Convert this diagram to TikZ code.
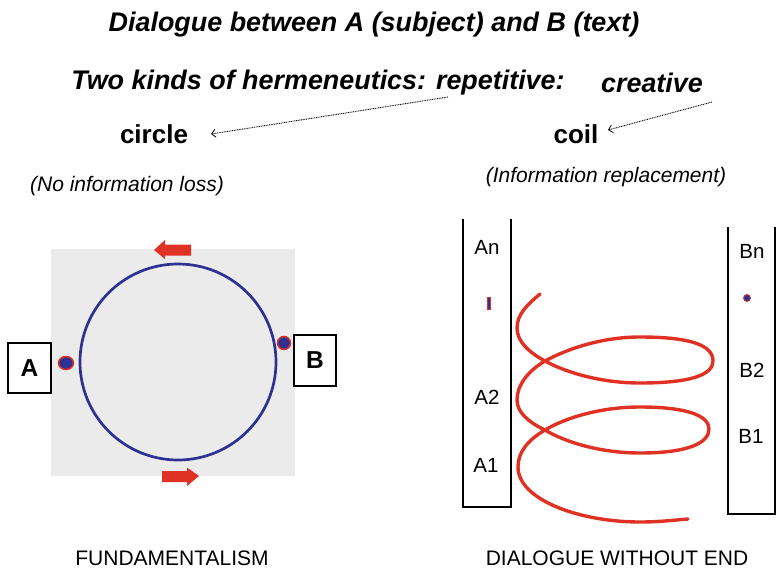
\documentclass[tikz,border=0pt]{standalone}
\usepackage{fontspec}
\setmainfont{Liberation Sans}
\usetikzlibrary{arrows.meta}
\definecolor{cblue}{RGB}{46,49,146}
\definecolor{cred}{RGB}{224,50,36}
\definecolor{cgray}{RGB}{235,235,235}
\begin{document}
\begin{tikzpicture}[x=1pt,y=-1pt,
  txt/.style={inner sep=0pt, anchor=base},
  head/.style={txt, font=\fontsize{26.9}{30}\selectfont\bfseries\itshape},
  kind/.style={txt, font=\fontsize{26}{30}\selectfont\bfseries},
  note/.style={txt, font=\fontsize{21}{25}\selectfont\itshape},
  foot/.style={txt, font=\fontsize{21}{25}\selectfont},
  lbl/.style={txt, font=\fontsize{20.5}{24}\selectfont},
  lbox/.style={draw, line width=1.5pt, fill=white, inner sep=0pt, font=\fontsize{24.5}{28}\selectfont\bfseries},
  dotarrow/.style={line width=0.9pt, dash pattern=on 0.9pt off 0.8pt, -{Straight Barb[length=4pt,width=8pt,line width=0.8pt]}},
  redarrow/.style={fill=cred},
  pt/.style={fill=cblue, draw=cred, line width=1.5pt},
  coilline/.style={draw=cred, line width=3.4pt, line cap=round},
  col/.style={line width=1.3pt}]
\useasboundingbox (0,0) rectangle (776,568);

% texts
\node[head] (title) at (374,31) {Dialogue between A (subject) and B (text)};
\node[head] (kinds) at (318,89) {Two kinds of hermeneutics: repetitive:};
\node[head] (creative) at (652,92) {creative};
\node[kind] (circ) at (154,143) {circle};
\node[kind] (coil) at (576,143) {coil};
\node[note] (noloss) at (127,191) {(No information loss)};
\node[note] (repl) at (606,182) {(Information replacement)};
\node[foot] (fund) at (172,565) {FUNDAMENTALISM};
\node[foot] (dial) at (617,565) {DIALOGUE WITHOUT END};

% dotted arrows
\coordinate (repend) at (448,97);
\coordinate (circtip) at (211,134);
\coordinate (creend) at (712,102);
\coordinate (coiltip) at (608,130);
\draw[dotarrow] (repend) -- (circtip);
\draw[dotarrow] (creend) -- (coiltip);

% left: circle
\fill[cgray] (51,249) rectangle (295,476);
\draw[cblue, line width=2.7pt] (178,362) circle[radius=98];
\filldraw[pt] (66,363) ellipse[x radius=7.5, y radius=6.5];
\filldraw[pt] (284,343) circle[radius=6.5];
\node[lbox, minimum width=43pt, minimum height=50pt] (A) at (29.5,368) {A};
\node[lbox, minimum width=42pt, minimum height=51pt] (B) at (315,360.5) {B};
\fill[redarrow] (154,250) -- (165,240) -- (165,244.5) -- (191,244.5) -- (191,255.5) -- (165,255.5) -- (165,259) -- cycle;
\fill[redarrow] (199,476) -- (187,467.5) -- (187,471) -- (162,471) -- (162,482) -- (187,482) -- (187,486) -- cycle;

% right: columns
\draw[col] (463,219) -- (463,507) -- (511,507) -- (511,219);
\draw[col] (728,227) -- (728,514) -- (775,514) -- (775,227);
\node[lbl] (An) at (487,254) {An};
\node[lbl] (A2) at (487,404) {A2};
\node[lbl] (A1) at (486,472) {A1};
\node[lbl] (Bn) at (752,258) {Bn};
\node[lbl] (B2) at (752,377) {B2};
\node[lbl] (B1) at (751,443) {B1};
\filldraw[fill=cblue, draw=cred, line width=0.6pt] (487.5,297) rectangle (490.5,309);
\filldraw[fill=cblue, draw=cred, line width=0.8pt] (747,298) circle[radius=3.5];

% coil
\draw[coilline] (540,294)
  .. controls (528,304) and (517,314) .. (517,328)
  .. controls (517,342) and (530,353) .. (545,361)
  .. controls (565,372) and (600,383) .. (640,383)
  .. controls (690,383) and (713,375) .. (713,361)
  .. controls (713,345) and (690,337) .. (640,337)
  .. controls (600,337) and (565,350) .. (545,361)
  .. controls (528,371) and (517,385) .. (517,400)
  .. controls (517,413) and (530,423) .. (545,430)
  .. controls (565,442) and (600,453) .. (640,453)
  .. controls (688,453) and (709,443) .. (709,429)
  .. controls (709,416) and (688,407) .. (640,407)
  .. controls (600,407) and (565,418) .. (545,430)
  .. controls (528,440) and (518,452) .. (518,467)
  .. controls (518,500) and (580,522) .. (640,522)
  .. controls (660,522) and (675,520) .. (688,519);
\end{tikzpicture}
\end{document}
